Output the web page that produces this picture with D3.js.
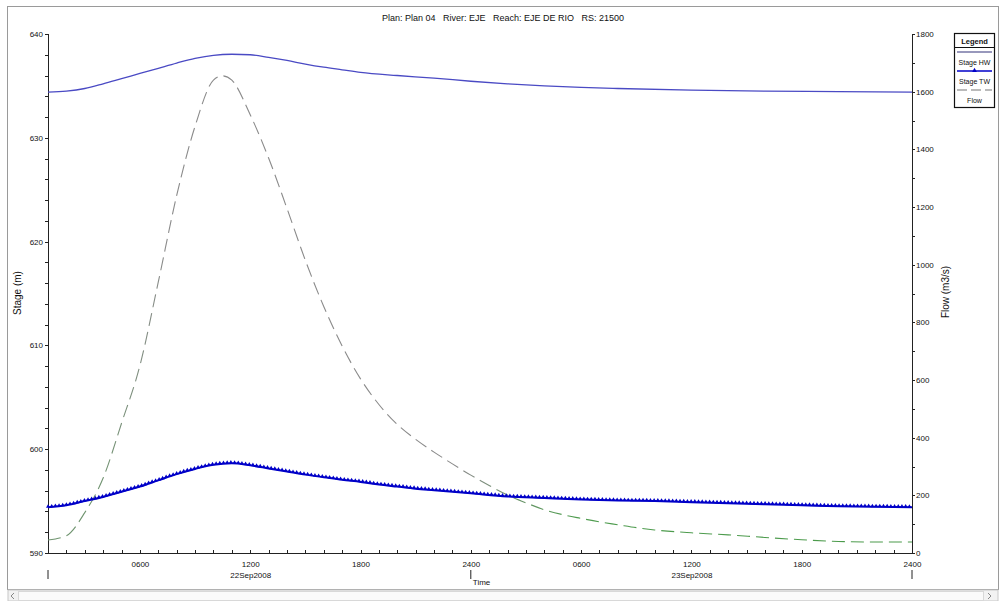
<!DOCTYPE html>
<html>
<head>
<meta charset="utf-8">
<script src="https://cdnjs.cloudflare.com/ajax/libs/d3/7.8.5/d3.min.js"></script>
<style>
  body { margin: 0; background: #fff; }
  svg { display: block; }
  text { font-family: "Liberation Sans", Arial, sans-serif; fill: #111; }
  .axis path, .axis line { stroke: #222; shape-rendering: crispEdges; }
  .axis text { font-size: 8px; fill: #111; }
</style>
</head>
<body>
<div id="chart"></div>
<script>
// hours after 22Sep2008 0000
var hwHours = [1, 2, 3, 4, 5, 6, 7, 8, 9, 10, 11, 12, 13, 14, 15, 16, 17, 18, 20, 22, 24, 26, 28, 30, 32, 36, 40, 44, 48];
var stageHW = [634.4, 634.5, 634.75, 635.2, 635.7, 636.2, 636.7, 637.2, 637.65, 637.95, 638.05, 638.0, 637.75, 637.45,
    637.1, 636.8, 636.55, 636.3, 636.0, 635.75, 635.45, 635.2, 635.0, 634.85, 634.75, 634.6, 634.5, 634.45, 634.4];

var twHours = [1, 2, 3, 4, 5, 6, 7, 8, 9, 10, 11, 12, 13, 14, 15, 16, 17, 18, 19, 20, 21, 22, 23, 24,
    26, 28, 30, 32, 34, 36, 38, 40, 42, 44, 46, 48];
var stageTW = [594.4, 594.6, 595.0, 595.4, 595.9, 596.4, 597.0, 597.6, 598.1, 598.5, 598.65, 598.45, 598.15, 597.85,
    597.55, 597.3, 597.05, 596.85, 596.6, 596.4, 596.2, 596.05, 595.9, 595.75,
    595.45, 595.3, 595.15, 595.05, 595.0, 594.9, 594.8, 594.7, 594.6, 594.5, 594.45, 594.4];

var flowHours = [1, 2, 3, 4, 5, 6, 7, 8, 9, 10, 10.5, 11, 12, 13, 14, 15, 16, 17, 18, 19, 20, 21, 22, 23, 24,
    25, 26, 27, 28, 29, 30, 31, 32, 33, 34, 36, 38, 40, 42, 44, 46, 48];
var flow = [45, 60, 140, 260, 450, 650, 940, 1240, 1480, 1640, 1655, 1640, 1520, 1370, 1195, 1015, 855, 718, 604, 515,
    446, 394, 350, 309, 270, 234, 201, 174, 150, 133, 120, 108, 98, 88, 80, 70, 63, 54, 46, 40, 38, 38];

var stageTicks = [590, 600, 610, 620, 630, 640];
var flowTicks = [0, 200, 400, 600, 800, 1000, 1200, 1400, 1600, 1800];

var title = "Plan: Plan 04   River: EJE   Reach: EJE DE RIO   RS: 21500";

var svgWidth = 1004;
var svgHeight = 601;

var margin = { top: 34, bottom: 48, left: 48, right: 92 };
var width = svgWidth - margin.left - margin.right;
var height = svgHeight - margin.top - margin.bottom;

var base = new Date(2008, 8, 22, 0, 0);
function toDate(h) { return new Date(base.getTime() + h * 3600e3); }

var svg = d3.select("#chart")
    .append("svg")
    .attr("width", svgWidth)
    .attr("height", svgHeight);

// window frame and scroll bar
svg.append("rect")
    .attr("x", 7.5).attr("y", 6.5)
    .attr("width", 991).attr("height", 583)
    .attr("fill", "none")
    .attr("stroke", "#9a9a9a");
svg.append("rect")
    .attr("x", 8).attr("y", 590)
    .attr("width", 990).attr("height", 11)
    .attr("fill", "#f2f2f2")
    .attr("stroke", "#c8c8c8");
svg.append("rect")
    .attr("x", 18.5).attr("y", 591.5)
    .attr("width", 965).attr("height", 9)
    .attr("fill", "#fafafa")
    .attr("stroke", "#d8d8d8");
svg.append("path").attr("d", "M14,593 L11,596 L14,599").attr("fill", "none").attr("stroke", "#888");
svg.append("path").attr("d", "M988,593 L991,596 L988,599").attr("fill", "none").attr("stroke", "#888");

svg.append("text")
    .attr("x", 503)
    .attr("y", 21)
    .attr("text-anchor", "middle")
    .style("font-size", "9px")
    .style("white-space", "pre")
    .text(title);

var chartGroup = svg.append("g")
    .attr("transform", `translate(${margin.left}, ${margin.top})`);

// scales
var xTimeScale = d3.scaleTime()
    .domain([toDate(1), toDate(48)])
    .range([0, width]);

var yStageScale = d3.scaleLinear()
    .domain([590, 640])
    .range([height, 0]);

var yFlowScale = d3.scaleLinear()
    .domain([0, 1800])
    .range([height, 0]);

// x axis: hourly ticks, labels every 6 hours
var hourFmt = d3.timeFormat("%H%M");
var dayFmt = d3.timeFormat("%d%b%Y");

chartGroup.append("g")
    .attr("class", "axis")
    .attr("transform", `translate(0, ${height})`)
    .call(d3.axisBottom(xTimeScale)
        .ticks(d3.timeHour.every(1))
        .tickSize(-3)
        .tickFormat(""));

var xLabels = chartGroup.append("g")
    .attr("class", "axis")
    .attr("transform", `translate(0, ${height})`)
    .call(d3.axisBottom(xTimeScale)
        .ticks(d3.timeHour.every(6))
        .tickSize(0)
        .tickPadding(8)
        .tickFormat(d => d.getHours() === 0 ? "2400" : hourFmt(d)));
xLabels.select(".domain").remove();

// date under the 1200 labels
xLabels.selectAll(".tick")
    .filter(d => d.getHours() === 12)
    .append("text")
    .attr("y", 25)
    .attr("text-anchor", "middle")
    .text(d => dayFmt(d));

// left axis
chartGroup.append("g")
    .attr("class", "axis")
    .call(d3.axisLeft(yStageScale)
        .ticks(25)
        .tickSize(3)
        .tickFormat(""));
chartGroup.append("g")
    .attr("class", "axis")
    .call(d3.axisLeft(yStageScale)
        .tickValues(stageTicks)
        .tickSize(3)
        .tickPadding(2)
        .tickFormat(d3.format("d")));

// right axis
var rightAxis = chartGroup.append("g")
    .attr("class", "axis")
    .attr("transform", `translate(${width}, 0)`);
rightAxis.append("g")
    .call(d3.axisRight(yFlowScale)
        .ticks(18)
        .tickSize(3)
        .tickFormat(""));
rightAxis.append("g")
    .call(d3.axisRight(yFlowScale)
        .tickValues(flowTicks)
        .tickSize(3)
        .tickPadding(1)
        .tickFormat(d3.format("d")));

// axis titles
svg.append("text")
    .attr("transform", "translate(21, 293) rotate(-90)")
    .attr("text-anchor", "middle")
    .style("font-size", "10px")
    .text("Stage (m)");

svg.append("text")
    .attr("transform", "translate(949, 292) rotate(-90)")
    .attr("text-anchor", "middle")
    .style("font-size", "10px")
    .text("Flow (m3/s)");

// start / end / time markers under the axis
[1, 24, 48].forEach(function (h) {
    var x = margin.left + xTimeScale(toDate(h));
    svg.append("line")
        .attr("x1", x).attr("x2", x)
        .attr("y1", 570).attr("y2", 579)
        .attr("stroke", "#222");
});
svg.append("text")
    .attr("x", margin.left + xTimeScale(toDate(24)) + 2)
    .attr("y", 585)
    .style("font-size", "8px")
    .text("Time");

// flow colour: grey on the steep part, green on the recession tail
var grad = svg.append("defs").append("linearGradient")
    .attr("id", "flowGrad")
    .attr("gradientUnits", "userSpaceOnUse")
    .attr("x1", margin.left).attr("x2", margin.left + width)
    .attr("y1", 0).attr("y2", 0);
grad.append("stop").attr("offset", "0%").attr("stop-color", "#6f946f");
grad.append("stop").attr("offset", "8%").attr("stop-color", "#8a8a8a");
grad.append("stop").attr("offset", "42%").attr("stop-color", "#8a8a8a");
grad.append("stop").attr("offset", "55%").attr("stop-color", "#4f9c4f");
grad.append("stop").attr("offset", "100%").attr("stop-color", "#4a9a4a");

var flowLine = d3.line()
    .x((d, i) => xTimeScale(toDate(flowHours[i])))
    .y(d => yFlowScale(d))
    .curve(d3.curveMonotoneX);

chartGroup.append("path")
    .datum(flow)
    .attr("d", flowLine)
    .attr("fill", "none")
    .attr("stroke", "url(#flowGrad)")
    .attr("stroke-width", 1.1)
    .attr("stroke-dasharray", "13,6");

// Stage HW
var hwLine = d3.line()
    .x((d, i) => xTimeScale(toDate(hwHours[i])))
    .y(d => yStageScale(d))
    .curve(d3.curveMonotoneX);

chartGroup.append("path")
    .datum(stageHW)
    .attr("d", hwLine)
    .attr("fill", "none")
    .attr("stroke", "#4a4ac4")
    .attr("stroke-width", 1.3);

// Stage TW with dense triangle markers
var twLine = d3.line()
    .x((d, i) => xTimeScale(toDate(twHours[i])))
    .y(d => yStageScale(d))
    .curve(d3.curveMonotoneX);

var twPath = chartGroup.append("path")
    .datum(stageTW)
    .attr("d", twLine)
    .attr("fill", "none")
    .attr("stroke", "#0000c8")
    .attr("stroke-width", 2);

var node = twPath.node();
var total = node.getTotalLength();
var markPts = [];
for (var s = 0; s <= total; s += 3.7) {
    markPts.push(node.getPointAtLength(s));
}
var tri = d3.symbol().type(d3.symbolTriangle).size(7);
chartGroup.append("g")
    .selectAll("path")
    .data(markPts)
    .enter()
    .append("path")
    .attr("d", tri)
    .attr("transform", d => `translate(${d.x}, ${d.y - 0.8})`)
    .attr("fill", "#0000c8");

// legend
var legend = svg.append("g");
legend.append("rect")
    .attr("x", 954.5).attr("y", 33.5)
    .attr("width", 40).attr("height", 74)
    .attr("fill", "#fff")
    .attr("stroke", "#111")
    .attr("stroke-width", 1.2);
legend.append("line")
    .attr("x1", 955).attr("x2", 994)
    .attr("y1", 47.5).attr("y2", 47.5)
    .attr("stroke", "#111");
legend.append("text")
    .attr("x", 974.5).attr("y", 44)
    .attr("text-anchor", "middle")
    .style("font-size", "7.5px")
    .style("font-weight", "bold")
    .text("Legend");

legend.append("line")
    .attr("x1", 957).attr("x2", 992)
    .attr("y1", 52).attr("y2", 52)
    .attr("stroke", "#33337a").attr("stroke-width", 1.2);
legend.append("text")
    .attr("x", 974.5).attr("y", 64.5)
    .attr("text-anchor", "middle")
    .style("font-size", "7px")
    .text("Stage HW");

legend.append("line")
    .attr("x1", 957).attr("x2", 992)
    .attr("y1", 71).attr("y2", 71)
    .attr("stroke", "#0000c8").attr("stroke-width", 1.3);
legend.append("path")
    .attr("d", d3.symbol().type(d3.symbolTriangle).size(10))
    .attr("transform", "translate(974.5, 70.5)")
    .attr("fill", "#0000c8");
legend.append("text")
    .attr("x", 974.5).attr("y", 83.5)
    .attr("text-anchor", "middle")
    .style("font-size", "7px")
    .text("Stage TW");

legend.append("line")
    .attr("x1", 957).attr("x2", 992)
    .attr("y1", 90).attr("y2", 90)
    .attr("stroke", "#777").attr("stroke-width", 1.1)
    .attr("stroke-dasharray", "10,4");
legend.append("text")
    .attr("x", 974.5).attr("y", 102.5)
    .attr("text-anchor", "middle")
    .style("font-size", "7px")
    .text("Flow");
</script>
</body>
</html>
